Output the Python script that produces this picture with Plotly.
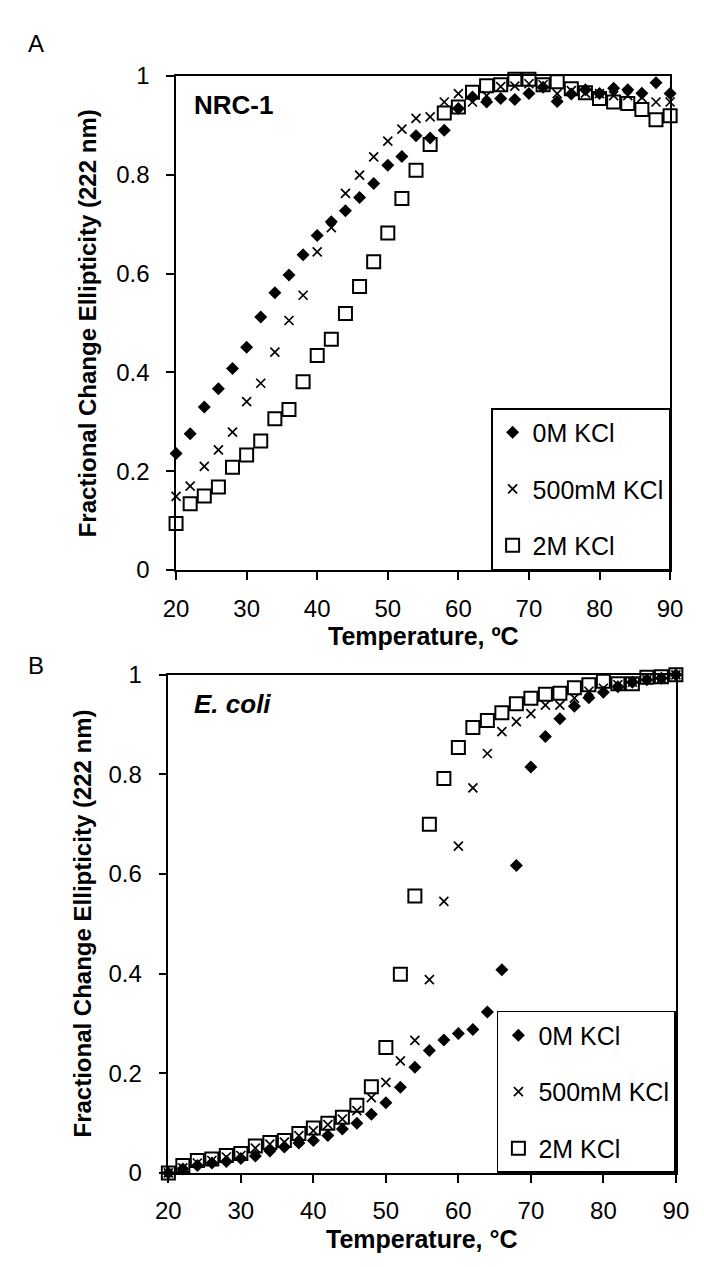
import plotly.graph_objects as go

# ---------------- data ----------------
temps = [20, 22, 24, 26, 28, 30, 32, 34, 36, 38, 40, 42, 44, 46, 48, 50, 52, 54,
         56, 58, 60, 62, 64, 66, 68, 70, 72, 74, 76, 78, 80, 82, 84, 86, 88, 90]

series_names = ["0M KCl", "500mM KCl", "2M KCl"]
x_ticks = [20, 30, 40, 50, 60, 70, 80, 90]
y_ticks = [0, 0.2, 0.4, 0.6, 0.8, 1]

# Panel A: NRC-1
nrc_0M = [0.236, 0.276, 0.330, 0.367, 0.408, 0.451, 0.512, 0.561, 0.597, 0.638,
          0.677, 0.705, 0.727, 0.754, 0.782, 0.819, 0.837, 0.879, 0.874, 0.890,
          0.934, 0.957, 0.947, 0.954, 0.952, 0.964, 0.977, 0.948, 0.963, 0.972,
          0.964, 0.975, 0.972, 0.965, 0.986, 0.964]
nrc_500mM = [0.149, 0.170, 0.210, 0.243, 0.279, 0.341, 0.378, 0.441, 0.505, 0.556,
             0.644, 0.693, 0.762, 0.799, 0.836, 0.868, 0.892, 0.914, 0.917, 0.947,
             0.964, 0.947, 0.960, 0.978, 0.979, 0.984, 0.982, 0.964, 0.970, 0.965,
             0.964, 0.960, 0.960, 0.956, 0.947, 0.947]
nrc_2M = [0.094, 0.134, 0.150, 0.168, 0.208, 0.233, 0.261, 0.306, 0.325, 0.381,
          0.434, 0.467, 0.519, 0.574, 0.624, 0.682, 0.752, 0.809, 0.861, 0.925,
          0.937, 0.967, 0.980, 0.982, 0.993, 0.993, 0.982, 0.988, 0.974, 0.966,
          0.954, 0.947, 0.944, 0.932, 0.911, 0.919]

# Panel B: E. coli
eco_0M = [0.000, 0.008, 0.015, 0.020, 0.023, 0.029, 0.034, 0.044, 0.052, 0.060,
          0.065, 0.075, 0.088, 0.100, 0.118, 0.141, 0.172, 0.212, 0.246, 0.267,
          0.280, 0.288, 0.323, 0.408, 0.617, 0.815, 0.876, 0.912, 0.937, 0.954,
          0.965, 0.976, 0.985, 0.990, 0.993, 1.000]
eco_500mM = [0.000, 0.010, 0.020, 0.025, 0.032, 0.035, 0.050, 0.058, 0.062, 0.075,
             0.085, 0.097, 0.108, 0.125, 0.151, 0.182, 0.225, 0.266, 0.388, 0.545,
             0.656, 0.773, 0.842, 0.886, 0.906, 0.922, 0.939, 0.939, 0.953, 0.967,
             0.973, 0.980, 0.985, 0.990, 0.993, 1.000]
eco_2M = [0.000, 0.015, 0.025, 0.028, 0.035, 0.039, 0.054, 0.061, 0.065, 0.079,
          0.090, 0.100, 0.112, 0.136, 0.173, 0.252, 0.399, 0.556, 0.700, 0.792,
          0.854, 0.894, 0.908, 0.924, 0.942, 0.953, 0.961, 0.963, 0.974, 0.980,
          0.987, 0.982, 0.982, 0.995, 0.996, 1.000]

# ---------------- styling ----------------
W, H = 704, 1267
FONT = "Liberation Sans, Arial, sans-serif"
BLACK = "#000000"

marker_styles = [
    dict(symbol="diamond", size=10, color=BLACK, line=dict(width=0)),
    dict(symbol="x-thin-open", size=9, color=BLACK, line=dict(width=1.7, color=BLACK)),
    dict(symbol="square-open", size=13, color=BLACK, line=dict(width=2, color=BLACK)),
]

fig = go.Figure()

panels = [
    dict(vals=[nrc_0M, nrc_500mM, nrc_2M], xa="x", ya="y", legend="legend"),
    dict(vals=[eco_0M, eco_500mM, eco_2M], xa="x2", ya="y2", legend="legend2"),
]
for p in panels:
    for name, vals, ms in zip(series_names, p["vals"], marker_styles):
        fig.add_trace(go.Scatter(
            x=temps, y=vals, mode="markers", name=name, marker=ms,
            xaxis=p["xa"], yaxis=p["ya"], legend=p["legend"],
            legendgroup=p["legend"] + name, cliponaxis=False,
        ))


def px_x(v):
    return v / W


def px_y(v):
    return 1 - v / H


# plot-area pixel boxes
A_box = dict(l=161, r=674, t=55, b=560)
B_box = dict(l=153, r=680, t=667, b=1176)

axis_common = dict(
    showline=True, linecolor=BLACK, linewidth=1.5, mirror=True,
    ticks="outside", ticklen=8, tickwidth=1.5, tickcolor=BLACK,
    showgrid=False, zeroline=False,
    tickfont=dict(family=FONT, size=24, color=BLACK),
)

xcfg = dict(axis_common, range=[20, 90], tickvals=x_ticks, ticklabelstandoff=8)
ycfg = dict(axis_common, range=[0, 1], tickvals=y_ticks,
            ticktext=[("%g" % t) for t in y_ticks], ticklabelstandoff=12)

legend_common = dict(
    bgcolor="white", bordercolor=BLACK, borderwidth=1.5,
    font=dict(family=FONT, size=25, color=BLACK),
    traceorder="grouped", tracegroupgap=21, itemsizing="trace",
    xanchor="right", yanchor="bottom",
)

fig.update_layout(
    width=W, height=H,
    margin=dict(l=0, r=0, t=0, b=0),
    paper_bgcolor="white", plot_bgcolor="white",
    font=dict(family=FONT, color=BLACK),
    xaxis=dict(xcfg, domain=[px_x(A_box["l"]), px_x(A_box["r"])], anchor="y"),
    yaxis=dict(ycfg, domain=[px_y(A_box["b"]), px_y(A_box["t"])], anchor="x"),
    xaxis2=dict(xcfg, domain=[px_x(B_box["l"]), px_x(B_box["r"])], anchor="y2"),
    yaxis2=dict(ycfg, domain=[px_y(B_box["b"]), px_y(B_box["t"])], anchor="x2"),
    legend=dict(legend_common, x=px_x(A_box["r"]), y=px_y(A_box["b"])),
    legend2=dict(legend_common, x=px_x(B_box["r"]), y=px_y(B_box["b"])),
    showlegend=True,
)

ann = []
# panel letters
ann.append(dict(text="A", x=px_x(5), y=px_y(22), xref="paper", yref="paper",
                xanchor="left", yanchor="middle", showarrow=False,
                font=dict(family=FONT, size=24, color=BLACK)))
ann.append(dict(text="B", x=px_x(5), y=px_y(658), xref="paper", yref="paper",
                xanchor="left", yanchor="middle", showarrow=False,
                font=dict(family=FONT, size=24, color=BLACK)))
# organism labels
ann.append(dict(text="<b>NRC-1</b>", x=22.3, y=0.94, xref="x", yref="y",
                xanchor="left", yanchor="middle", showarrow=False,
                font=dict(family=FONT, size=26, color=BLACK)))
ann.append(dict(text="<b><i>E. coli</i></b>", x=23.3, y=0.941, xref="x2", yref="y2",
                xanchor="left", yanchor="middle", showarrow=False,
                font=dict(family=FONT, size=26, color=BLACK)))
# axis titles
ytitle = "<b>Fractional Change Ellipticity (222 nm)</b>"
ann.append(dict(text="<b>Temperature, ºC</b>", x=px_x((A_box["l"] + A_box["r"]) / 2),
                y=px_y(627), xref="paper", yref="paper", xanchor="center",
                yanchor="middle", showarrow=False,
                font=dict(family=FONT, size=25, color=BLACK)))
ann.append(dict(text="<b>Temperature, °C</b>", x=px_x((B_box["l"] + B_box["r"]) / 2),
                y=px_y(1243), xref="paper", yref="paper", xanchor="center",
                yanchor="middle", showarrow=False,
                font=dict(family=FONT, size=25, color=BLACK)))
ann.append(dict(text=ytitle, x=px_x(70), y=px_y((A_box["t"] + A_box["b"]) / 2),
                xref="paper", yref="paper", xanchor="center", yanchor="middle",
                textangle=-90, showarrow=False,
                font=dict(family=FONT, size=24, color=BLACK)))
ann.append(dict(text=ytitle, x=px_x(64), y=px_y((B_box["t"] + B_box["b"]) / 2),
                xref="paper", yref="paper", xanchor="center", yanchor="middle",
                textangle=-90, showarrow=False,
                font=dict(family=FONT, size=24, color=BLACK)))
fig.update_layout(annotations=ann)

fig.write_html("out.html")
